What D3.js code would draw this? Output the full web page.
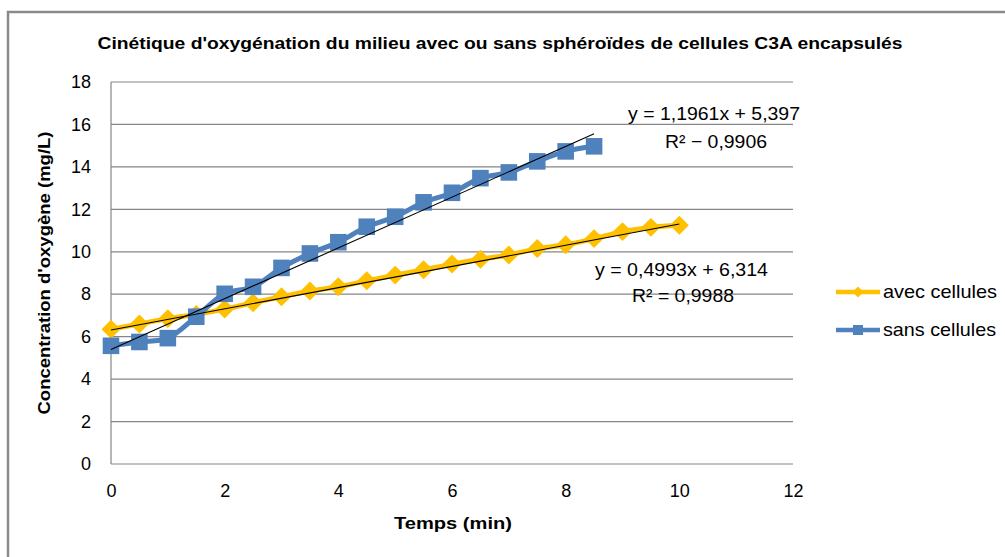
<!DOCTYPE html>
<html><head><meta charset="utf-8">
<script src="https://cdn.jsdelivr.net/npm/d3@7"></script>
<style>body{margin:0;background:#fff}svg{display:block}text{font-family:"Liberation Sans",Arial,sans-serif;fill:#000}</style>
</head><body><svg id="c" width="1005" height="557"></svg>
<script>
const title = "Cinétique d'oxygénation du milieu avec ou sans sphéroïdes de cellules C3A encapsulés";
const xTicks = [0, 2, 4, 6, 8, 10, 12];
const yTicks = [0, 2, 4, 6, 8, 10, 12, 14, 16, 18];
const timeAvec = [0,0.5,1,1.5,2,2.5,3,3.5,4,4.5,5,5.5,6,6.5,7,7.5,8,8.5,9,9.5,10];
const avecCellules = [6.35,6.6,6.85,7.05,7.3,7.6,7.88,8.15,8.35,8.63,8.9,9.15,9.42,9.65,9.85,10.15,10.33,10.62,10.95,11.15,11.25];
const timeSans = [0,0.5,1,1.5,2,2.5,3,3.5,4,4.5,5,5.5,6,6.5,7,7.5,8,8.5];
const sansCellules = [5.57,5.75,5.93,6.94,8.02,8.35,9.24,9.92,10.45,11.18,11.65,12.33,12.78,13.47,13.74,14.26,14.73,14.97];
const fitAvec = {slope: 0.4993, intercept: 6.314, xMin: 0, xMax: 10};
const fitSans = {slope: 1.1961, intercept: 5.397, xMin: 0, xMax: 8.5};
const eqAvec = ["y = 0,4993x + 6,314", "R² = 0,9988"];
const eqSans = ["y = 1,1961x + 5,397", "R² − 0,9906"];
const seriesNames = ["avec cellules", "sans cellules"];
const colors = ["#FFC000", "#4F81BD"];

const svg = d3.select("#c");
svg.append("rect").attr("x",8).attr("y",12).attr("width",1100).attr("height",600)
  .attr("fill","none").attr("stroke","#8a8a8a").attr("stroke-width",2.5);

const x = d3.scaleLinear().domain([0,12]).range([111,793]);
const y = d3.scaleLinear().domain([0,18]).range([464,82]);

svg.append("g").selectAll("line").data(yTicks).join("line")
  .attr("x1",x(0)).attr("x2",x(12)).attr("y1",d=>y(d)).attr("y2",d=>y(d))
  .attr("stroke","#868686").attr("stroke-width",1.2);
svg.append("line").attr("x1",x(0)).attr("x2",x(0)).attr("y1",y(0)).attr("y2",y(18))
  .attr("stroke","#868686").attr("stroke-width",1.2);

const yAxis = svg.append("g").attr("transform",`translate(${x(0)},0)`)
  .call(d3.axisLeft(y).tickValues(yTicks).tickSize(0).tickPadding(20));
yAxis.select(".domain").remove();
yAxis.selectAll("text").style("font-size","18px").attr("fill","#000");
const xAxis = svg.append("g").attr("transform",`translate(0,${y(0)})`)
  .call(d3.axisBottom(x).tickValues(xTicks).tickSize(0).tickPadding(20));
xAxis.select(".domain").remove();
xAxis.selectAll("text").style("font-size","18px").attr("fill","#000");

svg.append("text").attr("x",500).attr("y",49).attr("text-anchor","middle")
  .style("font-size","17px").style("font-weight","bold")
  .attr("textLength",805).attr("lengthAdjust","spacingAndGlyphs").text(title);
svg.append("text").attr("x",453).attr("y",529).attr("text-anchor","middle")
  .style("font-size","17px").style("font-weight","bold")
  .attr("textLength",118).attr("lengthAdjust","spacingAndGlyphs").text("Temps (min)");
svg.append("text").attr("transform","translate(50,273) rotate(-90)").attr("text-anchor","middle")
  .style("font-size","17px").style("font-weight","bold")
  .attr("textLength",283).attr("lengthAdjust","spacingAndGlyphs").text("Concentration d'oxygène (mg/L)");

const line = d3.line().x(d=>x(d[0])).y(d=>y(d[1])).curve(d3.curveCatmullRom.alpha(0.5));
const dAvec = timeAvec.map((t,i)=>[t,avecCellules[i]]);
const dSans = timeSans.map((t,i)=>[t,sansCellules[i]]);

const diamond = d3.symbol().type(d3.symbolSquare).size(180);
const square = d3.symbol().type(d3.symbolSquare).size(275);

svg.append("path").attr("d",line(dAvec)).attr("fill","none").attr("stroke",colors[0]).attr("stroke-width",5);
svg.append("g").selectAll("path").data(dAvec).join("path")
  .attr("d",diamond).attr("transform",d=>`translate(${x(d[0])},${y(d[1])}) rotate(45)`).attr("fill",colors[0]);
svg.append("path").attr("d",line(dSans)).attr("fill","none").attr("stroke",colors[1]).attr("stroke-width",5);
svg.append("g").selectAll("path").data(dSans).join("path")
  .attr("d",square).attr("transform",d=>`translate(${x(d[0])},${y(d[1])})`).attr("fill",colors[1]);

[fitAvec, fitSans].forEach(f=>{
  svg.append("line").attr("x1",x(f.xMin)).attr("y1",y(f.intercept+f.slope*f.xMin))
    .attr("x2",x(f.xMax)).attr("y2",y(f.intercept+f.slope*f.xMax))
    .attr("stroke","#000").attr("stroke-width",1.1);
});

svg.append("text").attr("x",800).attr("y",120).attr("text-anchor","end").style("font-size","19px")
  .attr("textLength",172).attr("lengthAdjust","spacingAndGlyphs").text(eqSans[0]);
svg.append("text").attr("x",716).attr("y",148).attr("text-anchor","middle").style("font-size","19px")
  .attr("textLength",102).attr("lengthAdjust","spacingAndGlyphs").text(eqSans[1]);
svg.append("text").attr("x",768).attr("y",276).attr("text-anchor","end").style("font-size","19px")
  .attr("textLength",173).attr("lengthAdjust","spacingAndGlyphs").text(eqAvec[0]);
svg.append("text").attr("x",683).attr("y",302).attr("text-anchor","middle").style("font-size","19px")
  .attr("textLength",102).attr("lengthAdjust","spacingAndGlyphs").text(eqAvec[1]);

const leg = svg.append("g");
[292, 330].forEach((ly,i)=>{
  leg.append("line").attr("x1",836).attr("x2",880).attr("y1",ly).attr("y2",ly).attr("stroke",colors[i]).attr("stroke-width",4.5);
  leg.append("path").attr("d", i===0 ? d3.symbol().type(d3.symbolSquare).size(60)() : d3.symbol().type(d3.symbolSquare).size(100)())
     .attr("transform",`translate(858,${ly})` + (i===0?" rotate(45)":"")).attr("fill",colors[i]);
  leg.append("text").attr("x",883).attr("y",ly+6).style("font-size","19px")
     .attr("textLength",i===0?114:113).attr("lengthAdjust","spacingAndGlyphs").text(seriesNames[i]);
});
</script></body></html>
